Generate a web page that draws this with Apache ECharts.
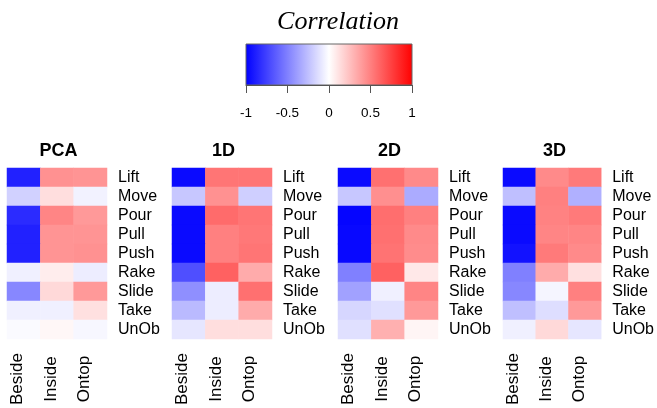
<!DOCTYPE html>
<html>
<head>
<meta charset="utf-8">
<script src="https://cdn.jsdelivr.net/npm/echarts@6/dist/echarts.min.js"></script>
<style>html,body{margin:0;padding:0;background:#fff}#c{width:657px;height:408px}</style>
</head>
<body>
<div id="c"></div>
<script>
// Categories
var rows = ['Lift','Move','Pour','Pull','Push','Rake','Slide','Take','UnOb'];
var cols = ['Beside','Inside','Ontop'];
var methods = ['PCA','1D','2D','3D'];
var colorTicks = [-1, -0.5, 0, 0.5, 1];

// Correlation values, rows x [Beside, Inside, Ontop]
var pcaVals = [
  [-0.87, 0.43, 0.42],
  [-0.18, 0.13, -0.05],
  [-0.83, 0.48, 0.40],
  [-0.87, 0.42, 0.42],
  [-0.87, 0.42, 0.43],
  [-0.06, 0.07, -0.07],
  [-0.47, 0.15, 0.40],
  [-0.06, -0.06, 0.12],
  [-0.02, 0.03, -0.03]
];
var d1Vals = [
  [-0.96, 0.54, 0.54],
  [-0.22, 0.43, -0.19],
  [-0.96, 0.58, 0.54],
  [-0.96, 0.50, 0.53],
  [-0.96, 0.50, 0.54],
  [-0.69, 0.62, 0.33],
  [-0.44, -0.07, 0.56],
  [-0.27, -0.07, 0.33],
  [-0.10, 0.13, 0.13]
];
var d2Vals = [
  [-0.96, 0.56, 0.46],
  [-0.22, 0.44, -0.33],
  [-0.98, 0.57, 0.50],
  [-0.97, 0.56, 0.46],
  [-0.97, 0.55, 0.45],
  [-0.50, 0.62, 0.09],
  [-0.37, -0.06, 0.48],
  [-0.16, -0.12, 0.40],
  [-0.12, 0.31, 0.04]
];
var d3Vals = [
  [-0.96, 0.46, 0.52],
  [-0.25, 0.50, -0.31],
  [-0.96, 0.49, 0.52],
  [-0.96, 0.48, 0.48],
  [-0.93, 0.52, 0.46],
  [-0.50, 0.33, 0.12],
  [-0.47, -0.04, 0.50],
  [-0.25, -0.13, 0.40],
  [-0.06, 0.15, -0.10]
];
var allVals = [pcaVals, d1Vals, d2Vals, d3Vals];

var panelLeft = [7, 172, 338, 503];
var panelW = 100, panelTop = 168, panelH = 174;
var font = 'Liberation Sans, Arial, Helvetica, sans-serif';

var grids = [], xAxes = [], yAxes = [], series = [], titles = [];
titles.push({
  text: 'Correlation', left: 333, top: 4, textAlign: 'center',
  textStyle: {fontFamily: 'Liberation Serif, Times New Roman, serif', fontStyle: 'italic', fontWeight: 'normal', fontSize: 26, color: '#000'}
});
for (var m = 0; m < 4; m++) {
  grids.push({left: panelLeft[m], top: panelTop, width: panelW, height: panelH, containLabel: false});
  xAxes.push({
    type: 'category', data: cols, gridIndex: m, position: 'bottom',
    axisLine: {show: false}, axisTick: {show: false}, splitLine: {show: false},
    axisLabel: {rotate: 90, align: 'center', verticalAlign: 'bottom', lineHeight: 12, margin: 40, fontSize: 17, fontFamily: font, color: '#000', interval: 0}
  });
  yAxes.push({
    type: 'category', data: rows, gridIndex: m, position: 'right', inverse: true,
    axisLine: {show: false}, axisTick: {show: false}, splitLine: {show: false},
    axisLabel: {margin: 11, fontSize: 16, fontFamily: font, color: '#000', interval: 0}
  });
  var data = [];
  var vals = allVals[m];
  for (var r = 0; r < rows.length; r++) {
    for (var c = 0; c < cols.length; c++) {
      data.push([c, r, vals[r][c]]);
    }
  }
  series.push({
    type: 'heatmap', xAxisIndex: m, yAxisIndex: m, data: data,
    itemStyle: {borderWidth: 0}, emphasis: {disabled: true}, silent: true
  });
  titles.push({
    text: methods[m], left: panelLeft[m] + panelW / 2 - 3.5, top: 137, textAlign: 'center',
    textStyle: {fontFamily: font, fontWeight: 'bold', fontSize: 18, color: '#000'}
  });
}

// colour bar grid
grids.push({
  left: 246, top: 44, width: 166, height: 41, show: true,
  backgroundColor: {type: 'linear', x: 0, y: 0, x2: 1, y2: 0,
    colorStops: [{offset: 0, color: '#0000FF'}, {offset: 0.5, color: '#FFFFFF'}, {offset: 1, color: '#FF0000'}]},
  borderColor: '#666', borderWidth: 1
});
xAxes.push({
  type: 'value', gridIndex: 4, min: -1, max: 1, interval: 0.5, position: 'bottom',
  axisLine: {show: true, lineStyle: {color: '#555', width: 1}},
  axisTick: {show: true, length: 8, lineStyle: {color: '#555'}},
  splitLine: {show: false},
  axisLabel: {margin: 21, fontSize: 13.5, fontFamily: font, color: '#000',
    formatter: function (v) { return colorTicks.indexOf(v) >= 0 ? String(v) : ''; }}
});
yAxes.push({type: 'value', gridIndex: 4, show: false, min: 0, max: 1});

var chart = echarts.init(document.getElementById('c'), null, {renderer: 'canvas'});
chart.setOption({
  animation: false,
  backgroundColor: '#fff',
  title: titles,
  grid: grids,
  xAxis: xAxes,
  yAxis: yAxes,
  visualMap: {
    show: false, type: 'continuous', min: -1, max: 1, seriesIndex: [0, 1, 2, 3],
    inRange: {color: ['#0000FF', '#FFFFFF', '#FF0000']}
  },
  series: series
});
</script>
</body>
</html>
